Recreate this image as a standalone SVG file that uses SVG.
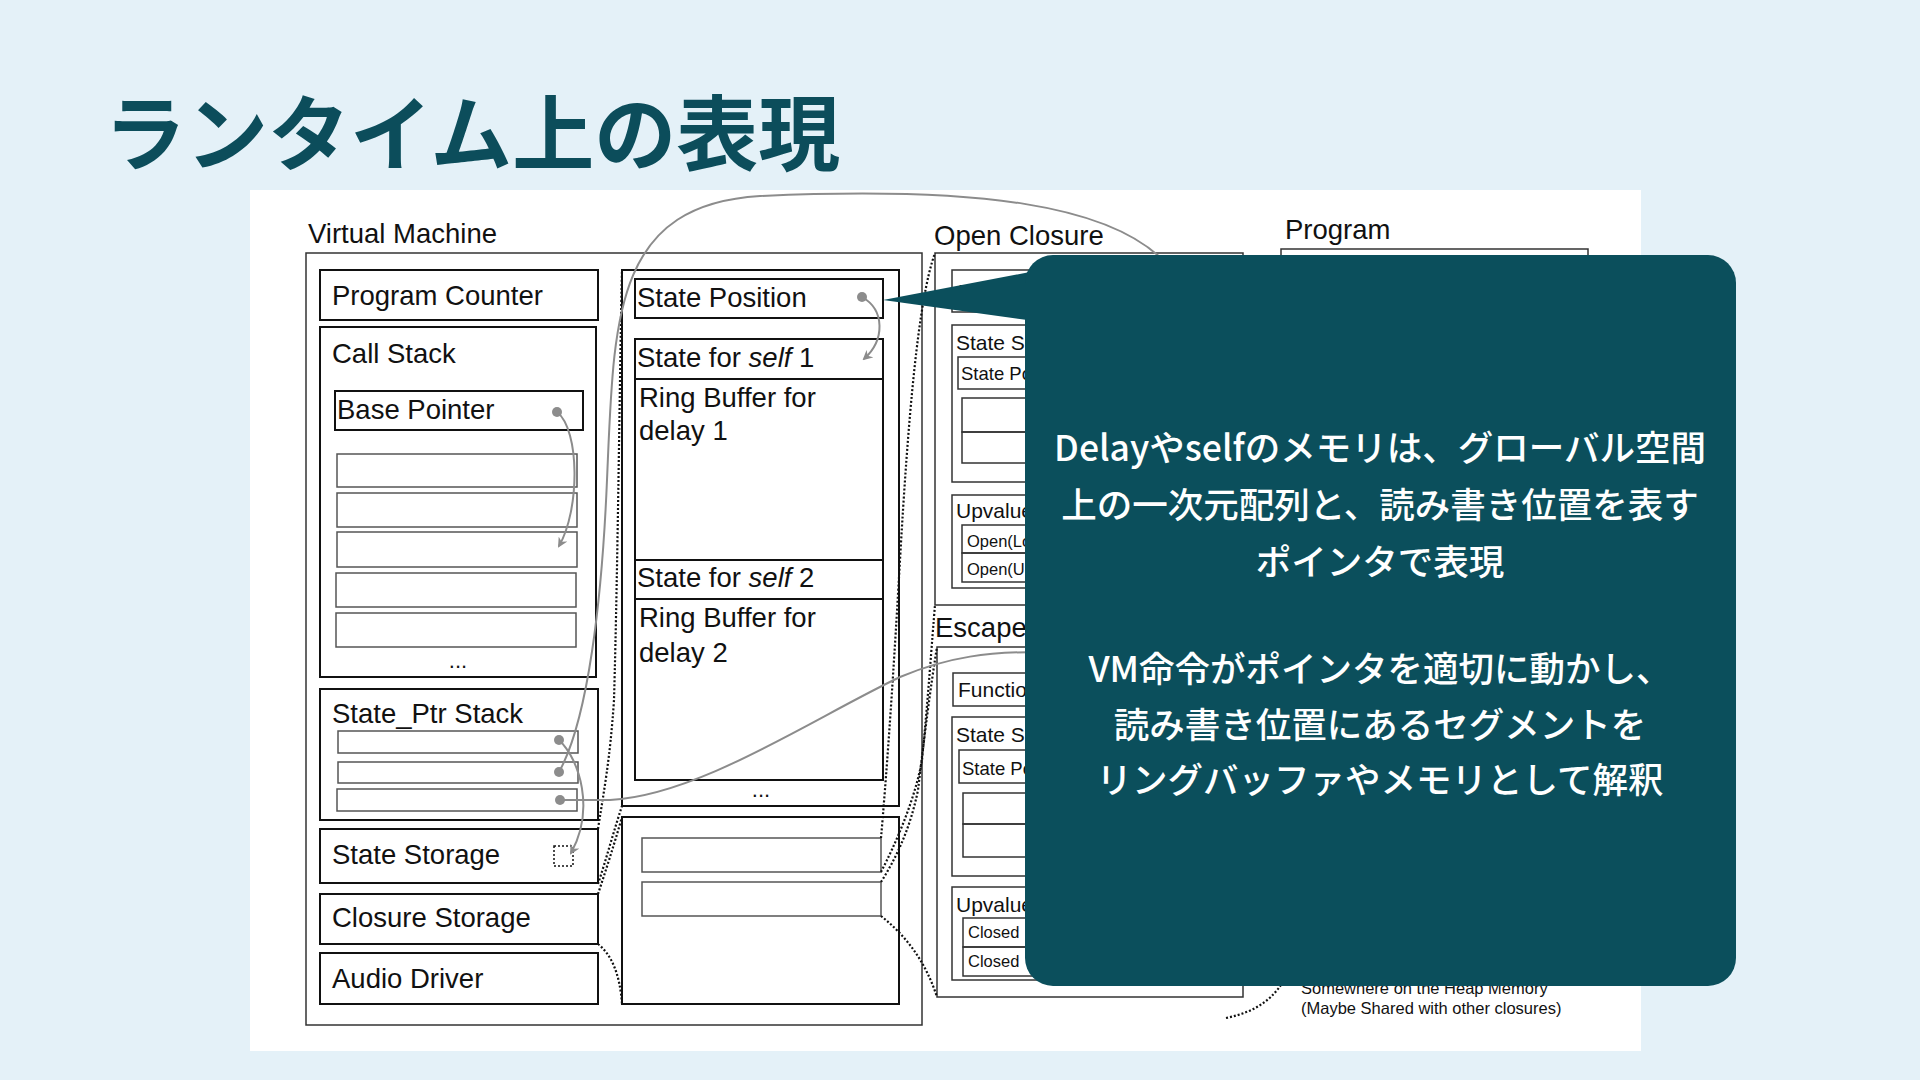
<svg xmlns="http://www.w3.org/2000/svg" width="1920" height="1080" viewBox="0 0 1920 1080">
<defs>
<style>
.t{font-family:"Liberation Sans",Arial,sans-serif;fill:#111}
.l{font-size:27.5px}
.m{font-size:21px}
.s{font-size:18.5px}
.x{font-size:16.5px}
.box{fill:none;stroke:#111;stroke-width:2}
.thin{fill:none;stroke:#333;stroke-width:1.5}
.slot{fill:none;stroke:#555;stroke-width:1.5}
.dot{fill:none;stroke:#111;stroke-width:2.2;stroke-dasharray:2 2}
.ptr{fill:none;stroke:#8c8c8c;stroke-width:2}
.pd{fill:#8c8c8c}
.jp{font-family:"Noto Sans CJK JP","Noto Sans",sans-serif}
</style>
<marker id="ah" viewBox="0 0 10 10" refX="8" refY="5" markerWidth="5" markerHeight="5" orient="auto-start-reverse" markerUnits="strokeWidth">
<path d="M0,0 L10,5 L0,10 L3,5 z" fill="#8c8c8c"/>
</marker>
</defs>
<rect width="1920" height="1080" fill="#E4F1F8"/>
<text class="jp" x="104" y="164" font-size="82" font-weight="700" fill="#0C4D5B">ランタイム上の表現</text>
<rect x="250" y="190" width="1391" height="861" fill="#fff"/>

<g id="virtual-machine">
<text class="t l" x="308" y="243">Virtual Machine</text>
<rect class="thin" x="306" y="253" width="616" height="772"/>
</g>
<g id="program-counter">
<rect class="box" x="320" y="270" width="278" height="50"/>
<text class="t l" x="332" y="305">Program Counter</text>
</g>
<g id="call-stack">
<rect class="box" x="320" y="327" width="276" height="350"/>
<text class="t l" x="332" y="363">Call Stack</text>
<rect class="box" x="335" y="391" width="248" height="39"/>
<text class="t l" x="337" y="419">Base Pointer</text>
<rect class="slot" x="337" y="454" width="240" height="33"/>
<rect class="slot" x="337" y="493" width="240" height="34"/>
<rect class="slot" x="337" y="532" width="240" height="35"/>
<rect class="slot" x="336" y="573" width="240" height="34"/>
<rect class="slot" x="336" y="613" width="240" height="34"/>
<text class="t" x="458" y="668" font-size="22" text-anchor="middle">...</text>
</g>
<g id="state-ptr-stack">
<rect class="box" x="320" y="689" width="278" height="131"/>
<text class="t l" x="332" y="723">State_Ptr Stack</text>
<rect class="slot" x="338" y="731" width="240" height="22"/>
<rect class="slot" x="338" y="762" width="240" height="21"/>
<rect class="slot" x="337" y="789" width="240" height="22"/>
</g>
<g id="state-storage">
<rect class="box" x="320" y="829" width="278" height="54"/>
<text class="t l" x="332" y="864">State Storage</text>
<rect class="dot" style="stroke-width:1.5" x="554" y="846" width="19" height="20"/>
</g>
<g id="closure-storage">
<rect class="box" x="320" y="894" width="278" height="50"/>
<text class="t l" x="332" y="927">Closure Storage</text>
</g>
<g id="audio-driver">
<rect class="box" x="320" y="953" width="278" height="51"/>
<text class="t l" x="332" y="988">Audio Driver</text>
</g>

<g id="state-memory">
<rect class="box" x="622" y="270" width="277" height="536"/>
<rect class="box" x="635" y="279" width="248" height="39"/>
<text class="t l" x="637" y="307">State Position</text>
<rect class="box" x="635" y="339" width="248" height="441"/>
<line class="box" x1="635" y1="379" x2="883" y2="379"/>
<line class="box" x1="635" y1="560" x2="883" y2="560"/>
<line class="box" x1="635" y1="599" x2="883" y2="599"/>
<text class="t l" x="637" y="367">State for <tspan font-style="italic">self</tspan> 1</text>
<text class="t l" x="639" y="407">Ring Buffer for</text>
<text class="t l" x="639" y="440">delay 1</text>
<text class="t l" x="637" y="587">State for <tspan font-style="italic">self</tspan> 2</text>
<text class="t l" x="639" y="627">Ring Buffer for</text>
<text class="t l" x="639" y="662">delay 2</text>
<text class="t" x="761" y="797" font-size="22" text-anchor="middle">...</text>
</g>
<g id="closure-memory">
<rect class="box" x="622" y="817" width="277" height="187"/>
<rect class="slot" x="642" y="838" width="239" height="34"/>
<rect class="slot" x="642" y="882" width="239" height="34"/>
</g>

<g id="open-closure">
<text class="t l" x="934" y="245">Open Closure</text>
<rect class="thin" x="935" y="253" width="308" height="352"/>
<rect class="thin" x="952" y="270" width="270" height="42"/>
<text class="t m" x="958" y="299">Function</text>
<rect class="thin" x="952" y="325" width="270" height="157"/>
<text class="t m" x="956" y="350">State Storage</text>
<rect class="thin" x="958" y="357" width="250" height="32"/>
<text class="t s" x="961" y="380">State Position</text>
<rect class="thin" x="962" y="398" width="240" height="34"/>
<rect class="thin" x="962" y="432" width="240" height="31"/>
<rect class="thin" x="952" y="495" width="270" height="93"/>
<text class="t m" x="956" y="518">Upvalues</text>
<rect class="thin" x="962" y="525" width="250" height="28"/>
<rect class="thin" x="962" y="553" width="250" height="29"/>
<text class="t x" x="967" y="547">Open(Local)</text>
<text class="t x" x="967" y="575">Open(Upvalue)</text>
</g>
<g id="escaped-closure">
<text class="t l" x="935" y="637">Escaped Closure</text>
<rect class="thin" x="937" y="647" width="306" height="350"/>
<rect class="thin" x="953" y="673" width="270" height="33"/>
<text class="t m" x="958" y="697">Function</text>
<rect class="thin" x="952" y="717" width="270" height="159"/>
<text class="t m" x="956" y="742">State Storage</text>
<rect class="thin" x="959" y="750" width="250" height="33"/>
<text class="t s" x="962" y="775">State Position</text>
<rect class="thin" x="963" y="793" width="240" height="31"/>
<rect class="thin" x="963" y="824" width="240" height="33"/>
<rect class="thin" x="952" y="887" width="270" height="93"/>
<text class="t m" x="956" y="912">Upvalues</text>
<rect class="thin" x="963" y="918" width="250" height="29"/>
<rect class="thin" x="963" y="947" width="250" height="29"/>
<text class="t x" x="968" y="938">Closed</text>
<text class="t x" x="968" y="967">Closed</text>
</g>
<g id="program">
<text class="t l" x="1285" y="239">Program</text>
<rect class="thin" x="1281" y="249" width="307" height="500"/>
</g>
<g id="heap-note">
<text class="t" x="1301" y="994" font-size="16.5" fill="#222">Somewhere on the Heap Memory</text>
<text class="t" x="1301" y="1014" font-size="16.5" fill="#222">(Maybe Shared with other closures)</text>
</g>

<g id="connectors">
<path class="dot" d="M598,829 C604,790 610,760 614,700 C618,560 620,350 622,270"/>
<path class="dot" d="M598,884 C606,860 614,830 622,806"/>
<path class="dot" d="M598,894 C606,870 614,845 622,817"/>
<path class="dot" d="M598,944 C612,955 620,975 622,1004"/>
<path class="dot" d="M881,838 C886,780 892,700 900,560 C908,420 918,300 935,253"/>
<path class="dot" d="M881,872 C895,845 915,800 922,760 C928,700 932,640 935,605"/>
<path class="dot" d="M881,882 C895,860 910,830 918,790 C924,740 930,690 937,647"/>
<path class="dot" d="M881,916 C905,935 925,960 937,997"/>
<path class="dot" d="M1226,1018 C1255,1012 1275,1000 1290,970"/>
<path class="ptr" d="M559,772 C588,720 602,600 607,480 C614,320 612,205 760,196 C980,186 1110,205 1165,262"/>
<path class="ptr" d="M557,412 C580,430 580,510 559,546" marker-end="url(#ah)"/>
<path class="ptr" d="M559,740 C580,760 595,810 571,853" marker-end="url(#ah)"/>
<path class="ptr" d="M560,800 L610,800 C700,795 810,720 900,677 C950,656 990,652 1040,652"/>
<path class="ptr" d="M862,297 C885,310 885,340 864,359" marker-end="url(#ah)"/>
<circle class="pd" cx="557" cy="412" r="5"/>
<circle class="pd" cx="559" cy="740" r="5"/>
<circle class="pd" cx="559" cy="772" r="5"/>
<circle class="pd" cx="560" cy="800" r="5"/>
<circle class="pd" cx="862" cy="297" r="5"/>
</g>

<g id="callout">
<polygon points="883,300 1035,271 1035,321" fill="#0B4F5C"/>
<rect x="1025" y="255" width="711" height="731" rx="28" fill="#0B4F5C"/>
<g class="jp" font-size="35.5" font-weight="500" fill="#fff" text-anchor="middle">
<text x="1380" y="461">Delayやselfのメモリは、グローバル空間</text>
<text x="1380" y="518">上の一次元配列と、読み書き位置を表す</text>
<text x="1380" y="575">ポインタで表現</text>
<text x="1380" y="682">VM命令がポインタを適切に動かし、</text>
<text x="1380" y="738">読み書き位置にあるセグメントを</text>
<text x="1380" y="793">リングバッファやメモリとして解釈</text>
</g>
</g>
</svg>
